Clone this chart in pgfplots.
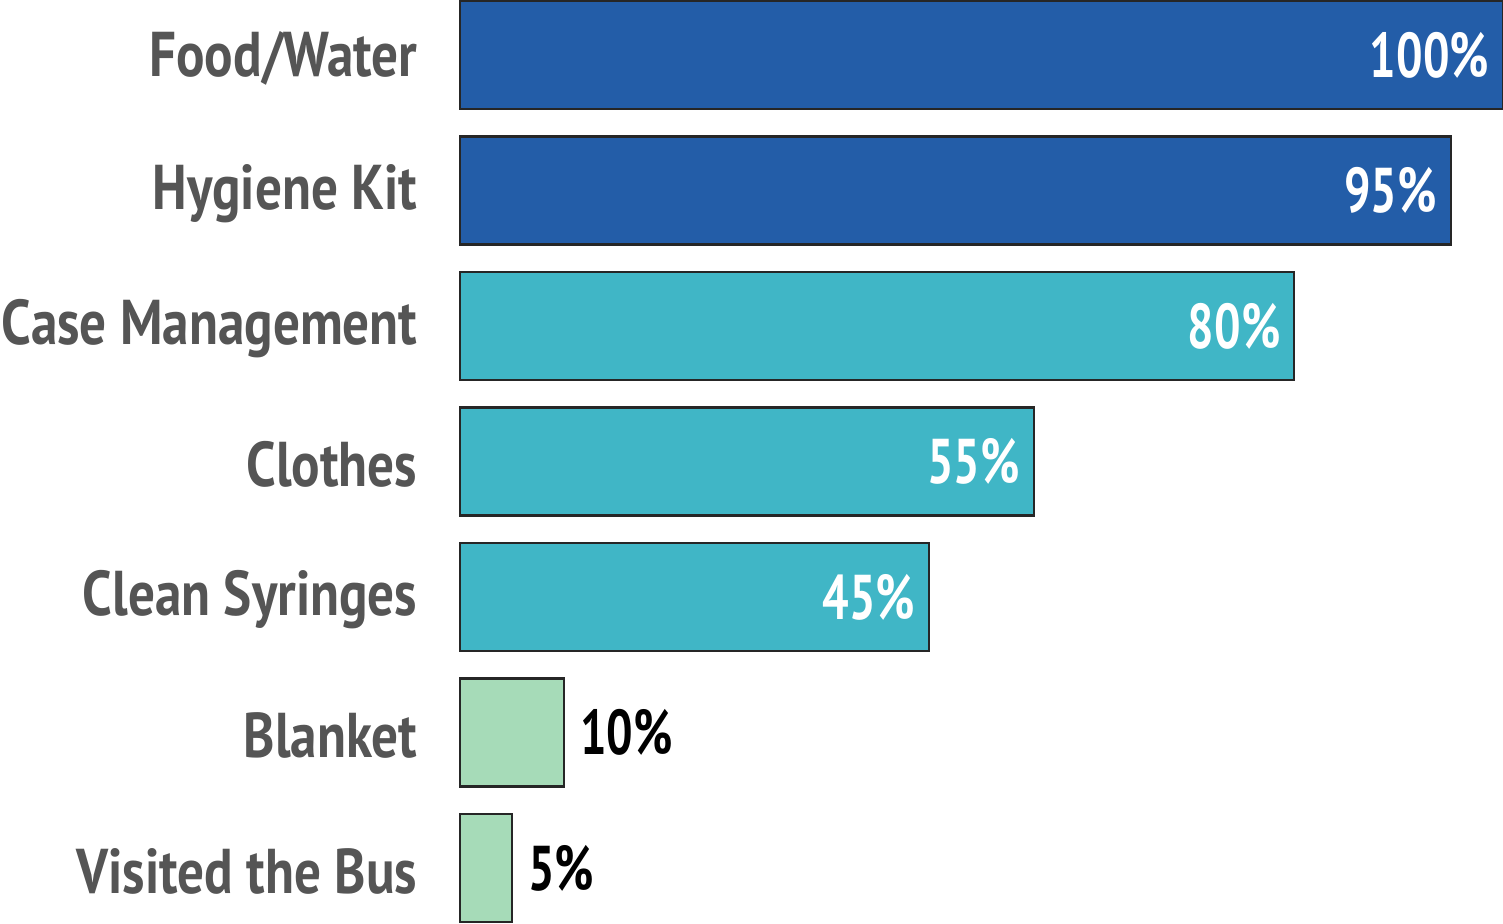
\documentclass[border=0pt]{standalone}
\usepackage{fontspec}
\setmainfont{PT Sans}
\newfontfamily\condfont[FakeStretch=0.84]{PT Sans}
\newfontfamily\numfont[FakeStretch=0.74]{PT Sans}
\usepackage{pgfplots}
\pgfplotsset{compat=1.18}
\definecolor{darkblue}{RGB}{35,93,168}
\definecolor{teal}{RGB}{64,182,198}
\definecolor{mint}{RGB}{166,219,184}
\definecolor{labelgray}{RGB}{85,85,85}
\newcommand{\lblfont}{\condfont\bfseries\fontsize{18}{20}\selectfont}
\newcommand{\valfont}{\numfont\bfseries\fontsize{18}{20}\selectfont}

\begin{document}
\begin{tikzpicture}
\useasboundingbox (-4.6cm,0) rectangle (10.43cm,9.23cm);
\begin{axis}[
  at={(0,0)}, anchor=south west,
  scale only axis,
  width=10.43cm, height=9.23cm,
  xmin=0, xmax=100,
  ymin=-0.406, ymax=6.406,
  xbar, bar width=0.797, bar shift=0pt,
  axis x line=none,
  axis y line=left,
  y axis line style={draw=none},
  clip=false,
  ytick={0,...,6},
  yticklabels={Visited the Bus, Blanket, Clean Syringes, Clothes, Case Management, Hygiene Kit, Food/Water},
  major tick length=0pt,
  yticklabel style={font=\lblfont, text=labelgray, anchor=east, inner sep=0pt, xshift=-0.42cm, yshift=-0.03cm},
  /pgf/number format/assume math mode=true,
  nodes near coords={\pgfmathprintnumber{\pgfplotspointmeta}\%},
  every node near coord/.append style={font=\valfont, inner sep=0pt},
]
\addplot[fill=darkblue, draw=black!85, line width=0.6pt,
  nodes near coords style={anchor=east, text=white, xshift=-0.13cm}]
  coordinates {(100,6) (95,5)};
\addplot[fill=teal, draw=black!85, line width=0.6pt,
  nodes near coords style={anchor=east, text=white, xshift=-0.13cm}]
  coordinates {(80,4) (55,3) (45,2)};
\addplot[fill=mint, draw=black!85, line width=0.6pt,
  nodes near coords style={anchor=west, text=black, xshift=0.15cm}]
  coordinates {(10,1) (5,0)};
\end{axis}
\end{tikzpicture}
\end{document}
